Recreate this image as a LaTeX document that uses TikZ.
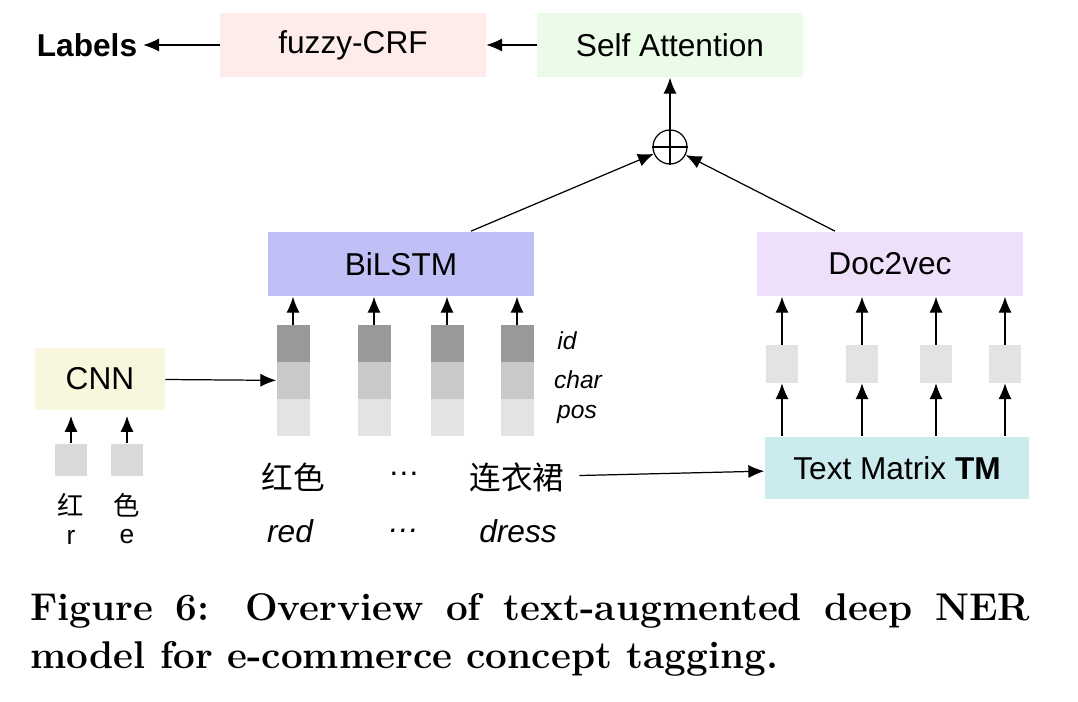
\documentclass[tikz,border=0pt]{standalone}
\usepackage{fontspec}
\newfontfamily\sansfont{Liberation Sans}
\newfontfamily\cjkfont{Noto Sans CJK SC}
\usetikzlibrary{arrows.meta}
\definecolor{crfpink}{HTML}{FDECEA}
\definecolor{attgreen}{HTML}{EAFBE8}
\definecolor{lstmblue}{HTML}{C0C0F7}
\definecolor{docviolet}{HTML}{EEE0FA}
\definecolor{cnnyellow}{HTML}{F8F6DC}
\definecolor{tmcyan}{HTML}{CCEBEE}
\definecolor{iddark}{HTML}{999999}
\definecolor{charmid}{HTML}{C9C9C9}
\definecolor{poslight}{HTML}{E3E3E3}

\begin{document}
\begin{tikzpicture}[x=0.02cm, y=-0.02cm,
  txt/.style={font=\sansfont\fontsize{18}{22}\selectfont},
  small/.style={font=\sansfont\itshape\fontsize{14}{17}\selectfont},
  box/.style={txt, inner sep=0pt, minimum width=5.32cm, minimum height=1.3cm},
  cell/.style={inner sep=0pt, minimum width=0.66cm, minimum height=0.74cm},
  vec/.style={inner sep=0pt, fill=poslight, minimum width=0.64cm, minimum height=0.76cm},
  arr/.style={-{Latex[length=9pt,width=7.5pt]}, line width=0.7pt}]
\useasboundingbox (0,0) rectangle (1078,702);

\node[txt, font=\sansfont\bfseries\fontsize{18}{22}\selectfont] (labels) at (87,45) {Labels};
\node[box, fill=crfpink] (crf) at (353,45) {fuzzy-CRF};
\node[box, fill=attgreen] (att) at (670,45) {Self Attention};
\draw[arr] (crf) -- (labels);
\draw[arr] (att) -- (crf);

\node[circle, draw, line width=0.7pt, minimum size=0.68cm, inner sep=0pt] (sum) at (670,147) {};
\draw[line width=1.6pt] (sum.north) -- (sum.south) (sum.west) -- (sum.east);
\draw[arr] (sum) -- (att);

\node[box, fill=lstmblue] (lstm) at (401,264) {BiLSTM};
\node[box, fill=docviolet] (doc) at (890,264) {Doc2vec};
\draw[arr] ([xshift=1.4cm]lstm.north) -- (sum);
\draw[arr] ([xshift=-1.1cm]doc.north) -- (sum);

\node[cell, fill=iddark] (id1) at (293,343.5) {};
\node[cell, fill=charmid] (ch1) at (293,380.5) {};
\node[cell, fill=poslight] (pos1) at (293,417.5) {};
\node[cell, fill=iddark] (id2) at (374,343.5) {};
\node[cell, fill=charmid] (ch2) at (374,380.5) {};
\node[cell, fill=poslight] (pos2) at (374,417.5) {};
\node[cell, fill=iddark] (id3) at (447,343.5) {};
\node[cell, fill=charmid] (ch3) at (447,380.5) {};
\node[cell, fill=poslight] (pos3) at (447,417.5) {};
\node[cell, fill=iddark] (id4) at (517,343.5) {};
\node[cell, fill=charmid] (ch4) at (517,380.5) {};
\node[cell, fill=poslight] (pos4) at (517,417.5) {};
\draw[arr] (id1) -- (lstm.south -| id1.north);
\draw[arr] (id2) -- (lstm.south -| id2.north);
\draw[arr] (id3) -- (lstm.south -| id3.north);
\draw[arr] (id4) -- (lstm.south -| id4.north);
\node[small] (lid) at (567,341) {id};
\node[small] (lchar) at (578,380) {char};
\node[small] (lpos) at (577,414) {pos};

\node[box, fill=cnnyellow, minimum width=2.6cm, minimum height=1.26cm] (cnn) at (100,379) {CNN};
\draw[arr] (cnn) -- (ch1);
\node[vec, fill=charmid!70, minimum height=0.66cm] (c1) at (71,460) {};
\node[vec, fill=charmid!70, minimum height=0.66cm] (c2) at (127,460) {};
\draw[arr, shorten >=3pt] (c1) -- (cnn.south -| c1.north);
\draw[arr, shorten >=3pt] (c2) -- (cnn.south -| c2.north);
\node[font=\cjkfont\fontsize{15}{18}\selectfont] (z1) at (71,505) {红};
\node[font=\cjkfont\fontsize{15}{18}\selectfont] (z2) at (127,505) {色};
\node[font=\sansfont\fontsize{15}{18}\selectfont] (p1) at (71,537) {r};
\node[font=\sansfont\fontsize{15}{18}\selectfont] (p2) at (127,537) {e};

\node[font=\cjkfont\fontsize{18}{22}\selectfont] (w1) at (293,477) {红色};
\node[txt] (w2) at (404,474) {\ldots};
\node[font=\cjkfont\fontsize{18}{22}\selectfont] (w3) at (517,477) {连衣裙};
\node[txt, font=\sansfont\itshape\fontsize{18}{22}\selectfont] (e1) at (290,531) {red};
\node[txt, font=\sansfont\itshape\fontsize{18}{22}\selectfont] (e2) at (404,531) {\ldots};
\node[txt, font=\sansfont\itshape\fontsize{18}{22}\selectfont] (e3) at (518,531) {dress};

\node[box, fill=tmcyan, minimum width=5.3cm, minimum height=1.26cm] (tm) at (897,468) {Text Matrix \textbf{TM}};
\draw[arr, shorten <=5pt] (w3) -- (tm);

\node[vec] (v1) at (782,364) {};
\node[vec] (v2) at (862,364) {};
\node[vec] (v3) at (936,364) {};
\node[vec] (v4) at (1005,364) {};
\draw[arr] (tm.north -| v1) -- (v1);
\draw[arr] (tm.north -| v2) -- (v2);
\draw[arr] (tm.north -| v3) -- (v3);
\draw[arr] (tm.north -| v4) -- (v4);
\draw[arr] (v1) -- (doc.south -| v1);
\draw[arr] (v2) -- (doc.south -| v2);
\draw[arr] (v3) -- (doc.south -| v3);
\draw[arr] (v4) -- (doc.south -| v4);

\node[anchor=north west, text width=20cm, align=justify, inner sep=0pt,
  font=\bfseries\fontsize{22}{27.3}\selectfont] (caption) at (30,593)
  {Figure 6: Overview of text-augmented deep NER model for e-commerce concept tagging.};
\end{tikzpicture}
\end{document}
